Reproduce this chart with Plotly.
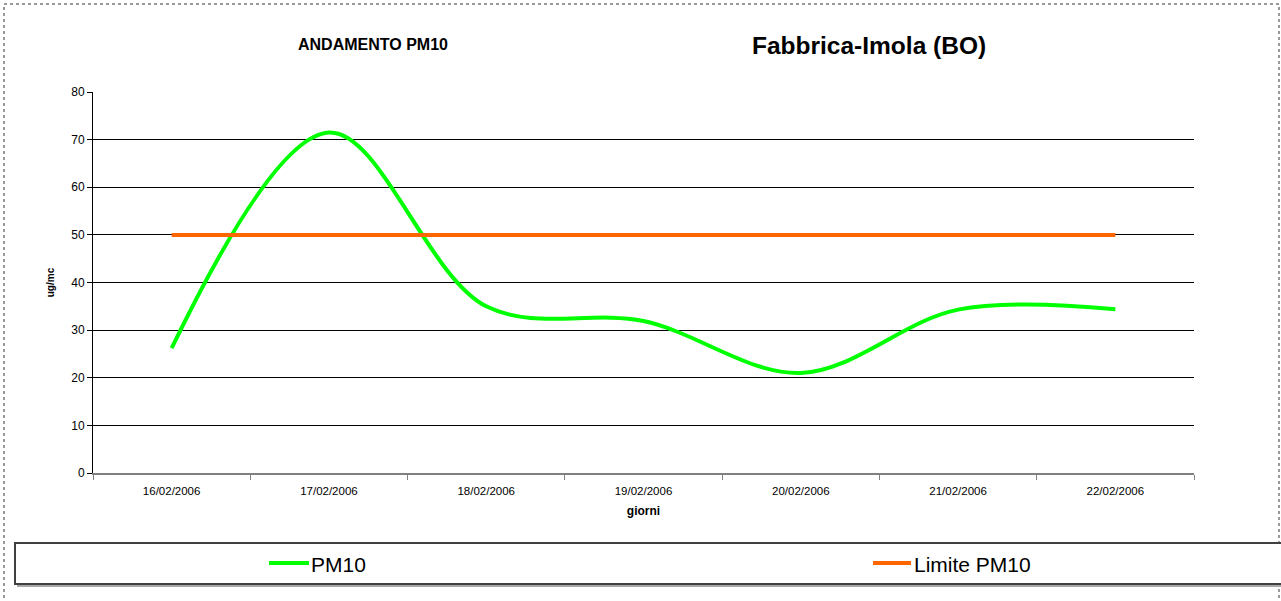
import plotly.graph_objects as go

# Daily PM10 readings and the regulatory limit
giorni = ["16/02/2006", "17/02/2006", "18/02/2006", "19/02/2006",
          "20/02/2006", "21/02/2006", "22/02/2006"]
pm10 = [26.2, 71.5, 35.0, 31.9, 21.0, 34.3, 34.4]
limite_pm10 = [50, 50, 50, 50, 50, 50, 50]
y_ticks = [0, 10, 20, 30, 40, 50, 60, 70, 80]

W, H = 1281, 601
L, R, T, B = 93, 87, 92, 128
PW, PH = W - L - R, H - T - B


def px(x):
    return (x - L) / PW


def py(y):
    return (H - B - y) / PH


FONT = "Liberation Sans, Arial, sans-serif"
GREEN = "#00FF00"
ORANGE = "#FF6600"

fig = go.Figure()
fig.add_trace(go.Scatter(
    x=giorni, y=pm10, mode="lines", name="PM10",
    line=dict(color=GREEN, width=4, shape="spline", smoothing=1),
    showlegend=False,
))
fig.add_trace(go.Scatter(
    x=giorni, y=limite_pm10, mode="lines", name="Limite PM10",
    line=dict(color=ORANGE, width=4),
    showlegend=False,
))

shapes = [
    # dotted frame around the whole chart area
    dict(type="rect", xref="paper", yref="paper",
         x0=px(4), x1=px(1279), y0=py(4), y1=py(640),
         line=dict(color="#333333", width=1, dash="dot"), layer="below"),
    # legend box with its shadow
    dict(type="line", xref="paper", yref="paper",
         x0=px(17), x1=px(1290), y0=py(586), y1=py(586),
         line=dict(color="#a8a8a8", width=2)),
    dict(type="rect", xref="paper", yref="paper",
         x0=px(15), x1=px(1290), y0=py(543), y1=py(584),
         line=dict(color="#404040", width=2), fillcolor="white"),
    # legend samples
    dict(type="line", xref="paper", yref="paper",
         x0=px(269), x1=px(309), y0=py(563), y1=py(563),
         line=dict(color=GREEN, width=4)),
    dict(type="line", xref="paper", yref="paper",
         x0=px(873), x1=px(911), y0=py(563), y1=py(563),
         line=dict(color=ORANGE, width=4)),
]

annotations = [
    dict(text="<b>ANDAMENTO PM10</b>", xref="paper", yref="paper",
         x=px(373), y=py(44), xanchor="center", yanchor="middle",
         showarrow=False, font=dict(family=FONT, size=16, color="black")),
    dict(text="<b>Fabbrica-Imola (BO)</b>", xref="paper", yref="paper",
         x=px(869), y=py(46), xanchor="center", yanchor="middle",
         showarrow=False, font=dict(family=FONT, size=24.5, color="black")),
    dict(text="PM10", xref="paper", yref="paper",
         x=px(309), y=py(564), xanchor="left", yanchor="middle",
         showarrow=False, font=dict(family=FONT, size=21, color="black")),
    dict(text="Limite PM10", xref="paper", yref="paper",
         x=px(912), y=py(564), xanchor="left", yanchor="middle",
         showarrow=False, font=dict(family=FONT, size=21, color="black")),
]

fig.update_layout(
    width=W, height=H,
    margin=dict(l=L, r=R, t=T, b=B, autoexpand=False),
    paper_bgcolor="white", plot_bgcolor="white",
    font=dict(family=FONT, color="black"),
    shapes=shapes, annotations=annotations,
    showlegend=False,
)

fig.update_xaxes(
    type="category", range=[-0.5, 6.5],
    tickson="boundaries", ticks="outside", ticklen=5,
    tickcolor="#808080", tickwidth=1,
    showline=True, linecolor="#808080", linewidth=2,
    showgrid=False, zeroline=False,
    ticklabelstandoff=6,
    tickfont=dict(family=FONT, size=11.5, color="black"),
    title=dict(text="<b>giorni</b>", standoff=11,
               font=dict(family=FONT, size=12, color="black")),
)
fig.update_yaxes(
    range=[0, 80], tickvals=y_ticks,
    ticks="outside", ticklen=5, tickcolor="black", tickwidth=1,
    showline=True, linecolor="black", linewidth=1,
    showgrid=True, gridcolor="black", gridwidth=1,
    zeroline=False,
    tickfont=dict(family=FONT, size=12, color="black"),
    title=dict(text="<b>ug/mc</b>", standoff=14,
               font=dict(family=FONT, size=10, color="black")),
)

fig.write_html("out.html")
